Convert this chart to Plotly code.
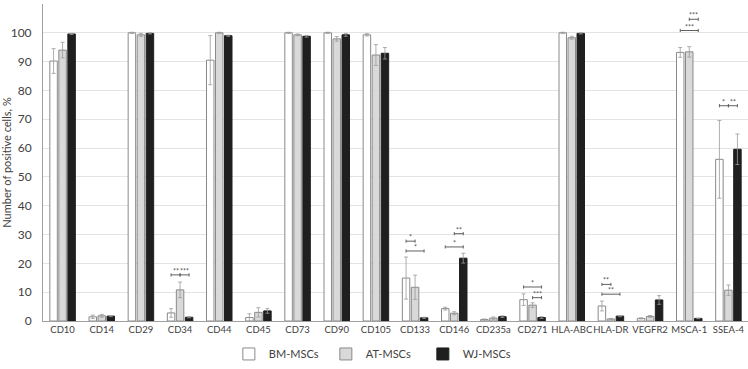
import plotly.graph_objects as go

categories = ["CD10", "CD14", "CD29", "CD34", "CD44", "CD45", "CD73", "CD90", "CD105",
              "CD133", "CD146", "CD235a", "CD271", "HLA-ABC", "HLA-DR", "VEGFR2", "MSCA-1", "SSEA-4"]
series_names = ["BM-MSCs", "AT-MSCs", "WJ-MSCs"]

bm_values = [90.2, 1.45, 100, 2.8, 90.5, 1.2, 100, 100, 99.3, 14.9, 4.3, 0.5, 7.4, 100, 5.2, 0.9, 93.2, 56.1]
bm_errors = [4.3, 0.6, 0.2, 1.5, 8.5, 1.3, 0.2, 0.2, 0.4, 7.3, 0.5, 0.2, 2.0, 0.2, 1.7, 0.2, 1.7, 13.5]
at_values = [94.0, 1.8, 99.3, 10.8, 100, 3.0, 99.3, 97.9, 92.3, 11.7, 2.7, 1.0, 5.5, 98.3, 0.7, 1.6, 93.4, 10.7]
at_errors = [2.7, 0.5, 0.5, 2.7, 0.2, 1.6, 0.3, 0.8, 3.6, 4.2, 0.5, 0.4, 0.8, 0.5, 0.2, 0.3, 1.8, 1.8]
wj_values = [99.6, 1.7, 99.8, 1.3, 99.0, 3.5, 98.8, 99.3, 92.9, 1.1, 21.8, 1.5, 1.2, 99.8, 1.7, 7.3, 0.9, 59.6]
wj_errors = [0.2, 0.2, 0.2, 0.2, 0.2, 0.8, 0.3, 0.5, 2.0, 0.2, 1.7, 0.3, 0.3, 0.2, 0.2, 1.5, 0.1, 5.3]

# significance brackets: category, from-series index, to-series index, height, label
sig_category = ["CD34", "CD34", "CD133", "CD133", "CD146", "CD146", "CD271", "CD271",
                "HLA-DR", "HLA-DR", "MSCA-1", "MSCA-1", "SSEA-4", "SSEA-4"]
sig_from = [0, 1, 0, 0, 1, 0, 0, 1, 0, 0, 1, 0, 0, 1]
sig_to = [1, 2, 1, 2, 2, 2, 2, 2, 1, 2, 2, 2, 1, 2]
sig_height = [16, 16, 27.7, 24.3, 30.3, 25.7, 11.8, 8.1, 12.7, 9.3, 104.7, 100.8, 74.7, 74.7]
sig_label = ["**", "***", "*", "*", "**", "*", "*", "***", "**", "**", "***", "***", "*", "**"]

y_ticks = list(range(0, 111, 10))

fill_colors = ["#ffffff", "#d9d9d9", "#1f1f1f"]
line_colors = ["#8a8a8a", "#8a8a8a", "#1f1f1f"]
BARGAP = 0.31
BARGROUPGAP = 0.17
slot = (1 - BARGAP) / 3

xpos = list(range(len(categories)))
values = [bm_values, at_values, wj_values]
errors = [bm_errors, at_errors, wj_errors]

fig = go.Figure()
for i, name in enumerate(series_names):
    fig.add_trace(go.Bar(
        x=xpos, y=values[i], name=name,
        marker=dict(color=fill_colors[i], line=dict(color=line_colors[i], width=1)),
        error_y=dict(type="data", array=errors[i], color="#9a9a9a", thickness=0.8, width=2),
    ))

shapes = []
annotations = []
tick_h = 0.55
for cat, a, b, h, lab in zip(sig_category, sig_from, sig_to, sig_height, sig_label):
    c = categories.index(cat)
    x0 = c + (a - 1) * slot
    x1 = c + (b - 1) * slot
    ln = dict(color="#606060", width=1)
    shapes.append(dict(type="line", xref="x", yref="y", x0=x0, x1=x1, y0=h, y1=h, line=ln))
    shapes.append(dict(type="line", xref="x", yref="y", x0=x0, x1=x0, y0=h - tick_h, y1=h + tick_h, line=ln))
    shapes.append(dict(type="line", xref="x", yref="y", x0=x1, x1=x1, y0=h - tick_h, y1=h + tick_h, line=ln))
    annotations.append(dict(x=(x0 + x1) / 2, y=h, xref="x", yref="y", text=lab, showarrow=False,
                            yanchor="bottom", yshift=-2, font=dict(size=7, color="#505050")))

fig.update_layout(
    width=748, height=369,
    margin=dict(l=43, r=0, t=4, b=38),
    paper_bgcolor="white", plot_bgcolor="white",
    barmode="group", bargap=BARGAP, bargroupgap=BARGROUPGAP,
    font=dict(family="Lato, Open Sans, sans-serif", color="#404040"),
    xaxis=dict(tickmode="array", tickvals=xpos, ticktext=categories, range=[-0.5, len(categories) - 0.5],
               showline=True, linecolor="#a0a0a0", linewidth=1, ticks="", showgrid=False,
               tickangle=0, automargin=False,
               tickfont=dict(size=9.5, color="#404040"),
               zeroline=False),
    yaxis=dict(range=[0, 110], tickvals=y_ticks, showgrid=True, gridcolor="#e3e3e3", gridwidth=1,
               showline=True, linecolor="#a0a0a0", linewidth=1, ticks="", zeroline=False,
               automargin=False, ticklabelstandoff=8,
               tickfont=dict(size=12, color="#404040"),
               title=dict(text="Number of positive cells, %", font=dict(size=11, color="#404040"), standoff=2)),
    legend=dict(orientation="h", x=0.47, xanchor="center", y=-0.104, yanchor="middle",
                font=dict(size=11, color="#404040"), itemwidth=30, entrywidth=52, entrywidthmode="pixels"),
    shapes=shapes, annotations=annotations,
)

fig.write_html("out.html", config={"displayModeBar": False},
               post_script="document.body.style.margin='0';")
